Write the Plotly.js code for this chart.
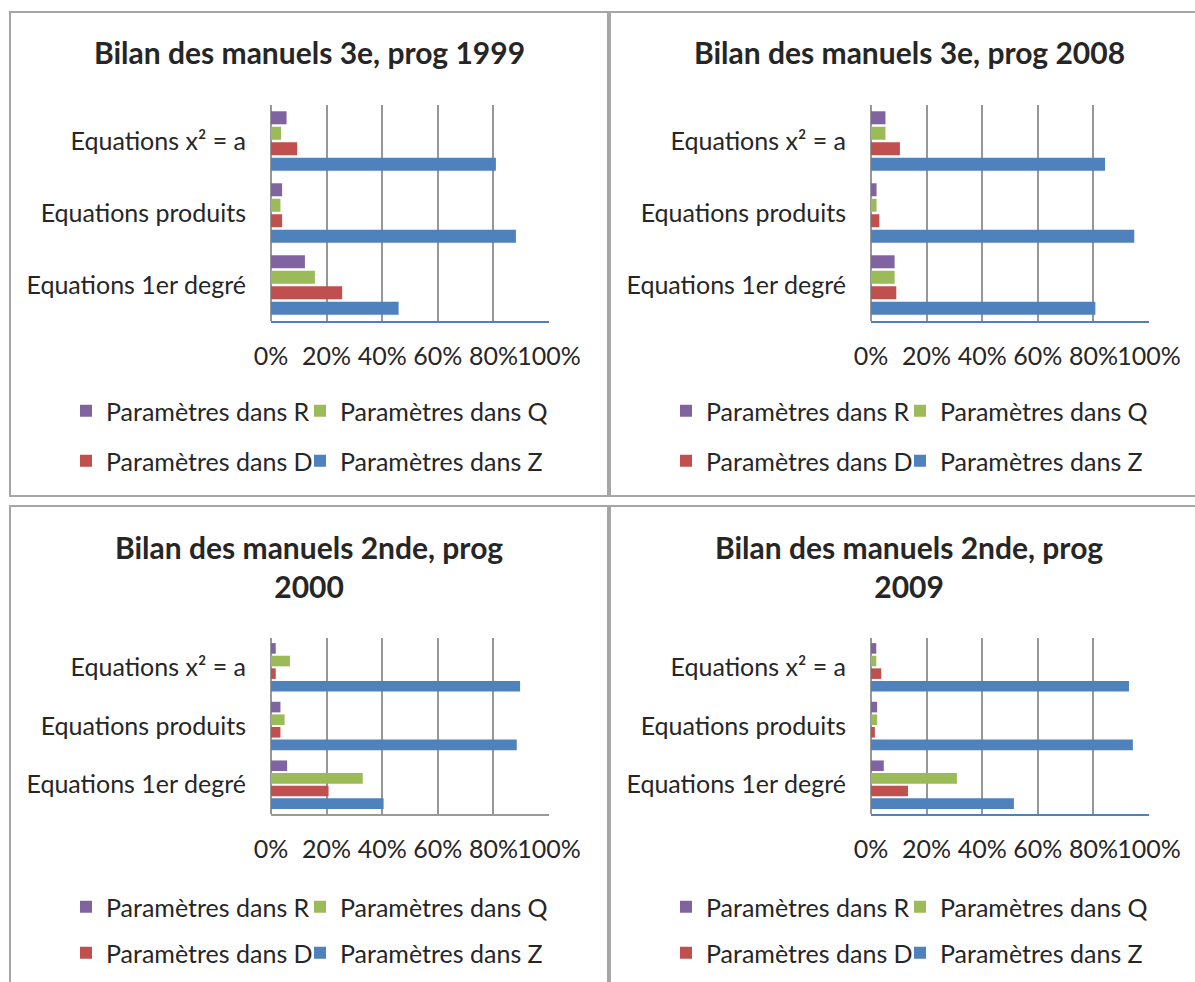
<!DOCTYPE html>
<html>
<head>
<meta charset="utf-8">
<script src="https://cdn.plot.ly/plotly-3.0.1.min.js"></script>
<style>html,body{margin:0;padding:0;background:#fff;}#chart{width:1195px;height:982px;}</style>
</head>
<body>
<div id="chart"></div>
<script>
// ---- data ----
const categories = ["Equations x² = a", "Equations produits", "Equations 1er degré"];
const seriesNames = ["Paramètres dans R", "Paramètres dans Q", "Paramètres dans D", "Paramètres dans Z"];
const panelTitles = [
  "Bilan des manuels 3e, prog 1999",
  "Bilan des manuels 3e, prog 2008",
  "Bilan des manuels 2nde, prog<br>2000",
  "Bilan des manuels 2nde, prog<br>2009"
];
// values in %, per series, in category order [x²=a, produits, 1er degré]
const p1999_R = [5.6, 4.0, 12.2];
const p1999_Q = [3.6, 3.4, 15.8];
const p1999_D = [9.4, 4.0, 25.6];
const p1999_Z = [80.9, 88.1, 45.9];
const p2008_R = [5.2, 2.0, 8.5];
const p2008_Q = [5.2, 2.0, 8.5];
const p2008_D = [10.4, 3.0, 9.1];
const p2008_Z = [84.2, 94.7, 80.7];
const p2000_R = [1.7, 3.4, 5.8];
const p2000_Q = [6.8, 4.9, 33.0];
const p2000_D = [1.7, 3.4, 20.7];
const p2000_Z = [89.6, 88.4, 40.5];
const p2009_R = [1.9, 2.2, 4.6];
const p2009_Q = [1.9, 2.2, 30.9];
const p2009_D = [3.7, 1.4, 13.3];
const p2009_Z = [92.8, 94.2, 51.4];
const tickVals = [0, 20, 40, 60, 80, 100];
const tickText = ["0%", "20%", "40%", "60%", "80%", "100%"];

// ---- styling / layout ----
const W = 1195, H = 982;
const colors = ["#8064A2", "#9BBB59", "#C0504D", "#4F81BD"];
const FONT = "Lato, 'Open Sans', sans-serif";
const TXT = "#262626";
const FS = 25;
const px = v => v / W;
const py = v => 1 - v / H;

const panels = [
  {data: [p1999_R, p1999_Q, p1999_D, p1999_Z], box: [10, 12, 608, 496], plot: [271, 105, 549, 321], bottomLine: "#4F81BD", titleY: 52, legendY: [411, 461]},
  {data: [p2008_R, p2008_Q, p2008_D, p2008_Z], box: [610, 12, 1208, 496], plot: [871, 105, 1149, 321], bottomLine: "#4F81BD", titleY: 52, legendY: [411, 461]},
  {data: [p2000_R, p2000_Q, p2000_D, p2000_Z], box: [10, 506, 608, 990], plot: [271, 638, 549, 814], bottomLine: "#999999", titleY: 566, legendY: [907, 953]},
  {data: [p2009_R, p2009_Q, p2009_D, p2009_Z], box: [610, 506, 1208, 990], plot: [871, 638, 1149, 814], bottomLine: "#4F81BD", titleY: 566, legendY: [907, 953]}
];
// legend box left offsets (px) from panel left edge, by series [R, Q, D, Z]
const legendOffX = [56, 290, 56, 290];

const traces = [];
const layout = {
  width: W, height: H,
  margin: {l: 0, r: 0, t: 0, b: 0},
  paper_bgcolor: "#fff", plot_bgcolor: "rgba(0,0,0,0)",
  barmode: "group", bargap: 0.14, bargroupgap: 0.16,
  font: {family: FONT, size: FS, color: TXT},
  showlegend: true,
  shapes: [], annotations: []
};

let legendCount = 0;
panels.forEach((p, i) => {
  const n = i + 1;
  const xa = n === 1 ? "x" : "x" + n;
  const ya = n === 1 ? "y" : "y" + n;
  p.data.forEach((vals, s) => {
    legendCount++;
    const legName = legendCount === 1 ? "legend" : "legend" + legendCount;
    traces.push({
      type: "bar", orientation: "h",
      y: categories, x: vals, name: seriesNames[s],
      xaxis: xa, yaxis: ya,
      legend: legName,
      marker: {color: colors[s], line: {width: 0}},
      hoverinfo: "x+y+name"
    });
    layout[legName] = {
      orientation: "h", xanchor: "left", yanchor: "middle",
      x: px(p.box[0] + legendOffX[s]), y: py(p.legendY[s < 2 ? 0 : 1]),
      bgcolor: "rgba(0,0,0,0)", borderwidth: 0,
      font: {family: FONT, size: FS, color: TXT},
      itemclick: false, itemdoubleclick: false
    };
  });
  layout["xaxis" + (n === 1 ? "" : n)] = {
    domain: [px(p.plot[0]), px(p.plot[2])],
    anchor: ya, range: [0, 100],
    tickvals: tickVals, ticktext: tickText, tickangle: 0,
    showgrid: true, gridcolor: "#979797", gridwidth: 2,
    zeroline: true, zerolinecolor: "#979797", zerolinewidth: 2,
    showline: true, linecolor: p.bottomLine, linewidth: 2,
    ticks: "", ticklabelstandoff: 12,
    tickfont: {family: FONT, size: FS, color: TXT},
    fixedrange: true
  };
  layout["yaxis" + (n === 1 ? "" : n)] = {
    domain: [py(p.plot[3]), py(p.plot[1])],
    anchor: xa, type: "category",
    categoryorder: "array", categoryarray: categories,
    autorange: "reversed",
    showgrid: false, zeroline: false, showline: false,
    ticks: "", ticklabelstandoff: 24,
    tickfont: {family: FONT, size: FS, color: TXT},
    fixedrange: true
  };
  layout.shapes.push({
    type: "rect", xref: "paper", yref: "paper",
    x0: px(p.box[0]), x1: px(p.box[2]), y0: py(p.box[3]), y1: py(p.box[1]),
    line: {color: "#A6A6A6", width: 2}, fillcolor: "rgba(0,0,0,0)", layer: "below"
  });
  layout.annotations.push({
    xref: "paper", yref: "paper",
    x: px((p.box[0] + p.box[2]) / 2), y: py(p.titleY),
    xanchor: "center", yanchor: "middle",
    text: "<b>" + panelTitles[i] + "</b>", showarrow: false,
    font: {family: FONT, size: 30, color: TXT}
  });
});

Plotly.newPlot("chart", traces, layout, {displayModeBar: false, responsive: false});
</script>
</body>
</html>
